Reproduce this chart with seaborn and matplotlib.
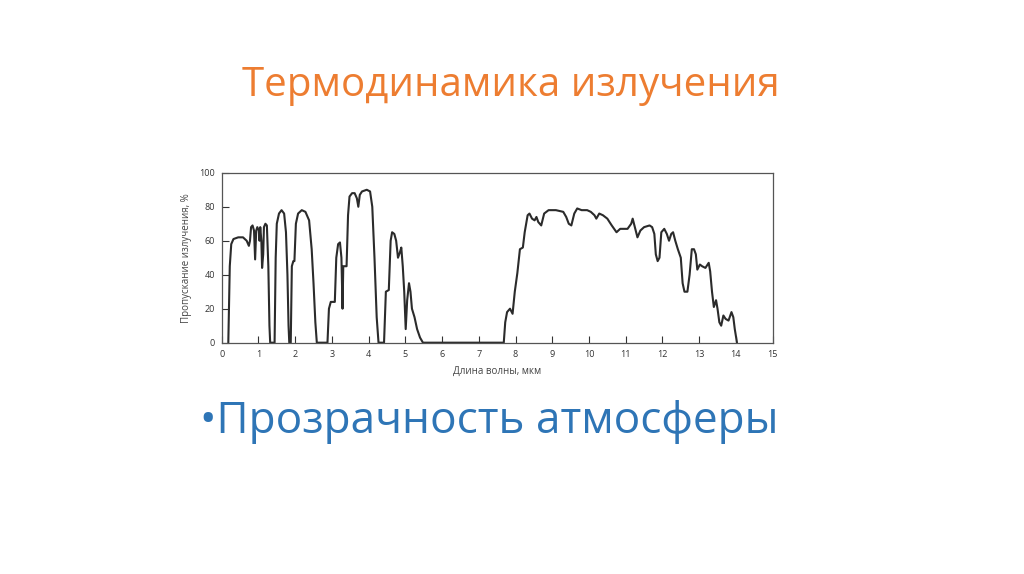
import numpy as np
import pandas as pd
import seaborn as sns
import matplotlib
matplotlib.use('Agg')
import matplotlib.pyplot as plt

# transmission spectrum (wavelength in um, transmission in %)
wavelength = [
    0.18, 0.22, 0.26, 0.32, 0.45, 0.58, 0.68, 0.74, 0.77, 0.80, 0.84, 0.88,
    0.91, 0.94, 0.97, 1.01, 1.03, 1.05, 1.08, 1.10, 1.13, 1.15, 1.19, 1.23,
    1.27, 1.30, 1.32, 1.44, 1.47, 1.50, 1.56, 1.63, 1.70, 1.75, 1.79, 1.82,
    1.84, 1.88, 1.91, 1.95, 1.98, 2.02, 2.08, 2.18, 2.28, 2.38, 2.45, 2.50,
    2.55, 2.59, 2.88, 2.92, 2.97, 3.08, 3.12, 3.17, 3.22, 3.26, 3.29, 3.31,
    3.40, 3.44, 3.48, 3.55, 3.62, 3.68, 3.72, 3.76, 3.82, 3.95, 4.04, 4.10,
    4.16, 4.22, 4.27, 4.42, 4.47, 4.55, 4.60, 4.64, 4.70, 4.75, 4.80, 4.85,
    4.89, 4.93, 4.97, 5.01, 5.05, 5.10, 5.14, 5.18, 5.25, 5.32, 5.40, 5.48,
    7.68, 7.72, 7.77, 7.85, 7.92, 7.98, 8.05, 8.12, 8.20, 8.25, 8.33, 8.38,
    8.45, 8.52, 8.57, 8.62, 8.70, 8.78, 8.90, 9.10, 9.30, 9.38, 9.45, 9.52,
    9.60, 9.68, 9.80, 9.95, 10.05, 10.15, 10.20, 10.28, 10.38, 10.50, 10.62,
    10.75, 10.85, 11.05, 11.15, 11.19, 11.25, 11.32, 11.40, 11.50, 11.65,
    11.72, 11.78, 11.82, 11.87, 11.92, 11.97, 12.05, 12.12, 12.18, 12.24,
    12.29, 12.35, 12.42, 12.50, 12.55, 12.60, 12.68, 12.74, 12.80, 12.86,
    12.91, 12.95, 13.02, 13.08, 13.17, 13.26, 13.30, 13.35, 13.40, 13.46,
    13.50, 13.55, 13.60, 13.66, 13.72, 13.80, 13.88, 13.93, 13.97, 14.03,
]
transmission = [
    0, 45, 58, 61, 62, 62, 60, 57, 60, 68, 69, 66,
    49, 66, 68, 66, 60, 68, 60, 44, 52, 68, 70, 69,
    45, 10, 0, 0, 50, 70, 76, 78, 76, 65, 40, 10,
    0, 0, 45, 48, 48, 70, 76, 78, 77, 72, 55, 35,
    12, 0, 0, 20, 24, 24, 50, 58, 59, 50, 20, 45,
    45, 75, 86, 88, 88, 85, 80, 87, 89, 90, 89, 80,
    50, 15, 0, 0, 30, 31, 60, 65, 64, 60, 50, 53,
    56, 45, 30, 8, 25, 35, 30, 20, 15, 8, 3, 0,
    0, 12, 18, 20, 17, 30, 41, 55, 56, 65, 75, 76,
    73, 72, 74, 71, 69, 76, 78, 78, 77, 74, 70, 69,
    76, 79, 78, 78, 77, 75, 73, 76, 75, 73, 69,
    65, 67, 67, 70, 73, 68, 62, 66, 68, 69,
    68, 64, 52, 48, 50, 65, 67, 64, 60, 64,
    65, 60, 55, 50, 35, 30, 30, 40, 55, 55,
    52, 43, 46, 45, 44, 47, 42, 30, 21, 25,
    20, 12, 10, 16, 14, 13, 18, 15, 8, 0,
]
x_ticks = list(range(0, 16))
y_ticks = [0, 20, 40, 60, 80, 100]

title_text = "Термодинамика излучения"
bullet_text = "\u2022Прозрачность атмосферы"
x_title = "Длина волны, мкм"
y_title = "Пропускание излучения, %"

sns.set_style('ticks')
plt.rcParams['font.family'] = ['Open Sans', 'DejaVu Sans']

df = pd.DataFrame({'wl': wavelength, 'tr': transmission})

fig = plt.figure(figsize=(10.24, 5.74), dpi=100)
fig.patch.set_facecolor('white')

ax = fig.add_axes([0.2165, 0.403, 0.538, 0.296])
sns.lineplot(data=df, x='wl', y='tr', ax=ax, color='#2b2b2b', lw=1.5,
             sort=False, estimator=None)
ax.set_xlim(0, 15)
ax.set_ylim(0, 100)
ax.set_xticks(x_ticks)
ax.set_yticks(y_ticks)
ax.tick_params(direction='in', length=5, width=0.8, labelsize=6.5,
               colors='#333333', pad=5)
for s in ax.spines.values():
    s.set_visible(True)
    s.set_color('#555555')
    s.set_linewidth(0.9)
ax.set_xlabel(x_title, fontsize=7, color='#444444', labelpad=5)
ax.set_ylabel(y_title, fontsize=7, color='#444444', labelpad=5)

fig.text(0.4985, 0.833, title_text, ha='center', va='baseline',
         fontsize=29, color='#ED7D31')
fig.text(0.195, 0.2456, bullet_text, ha='left', va='baseline',
         fontsize=31.8, color='#2E75B6')

fig.savefig('out.png', dpi=100, facecolor='white')
